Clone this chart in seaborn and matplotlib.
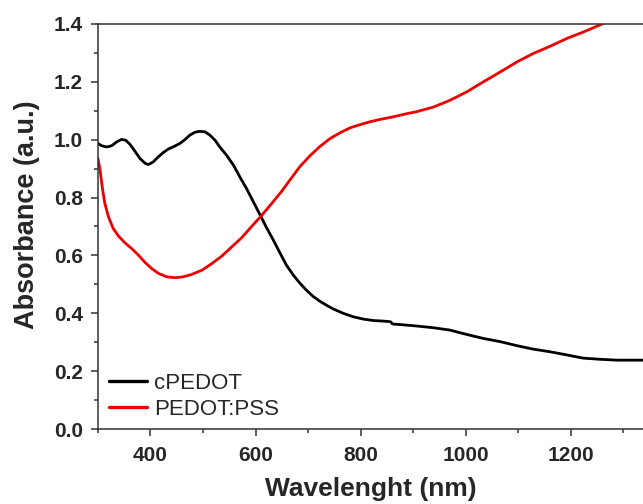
import pandas as pd
import matplotlib
matplotlib.use("Agg")
import matplotlib.pyplot as plt
import seaborn as sns
from matplotlib.ticker import MultipleLocator, FormatStrFormatter

# cPEDOT spectrum (wavelength nm, absorbance)
cpedot_nm = [300, 307, 317, 326, 336, 345, 353, 361, 370, 380, 390, 396, 405, 415,
             424, 434, 443, 456, 466, 475, 485, 494, 504, 513, 523, 532, 545, 558,
             570, 583, 596, 609, 621, 634, 647, 659, 672, 685, 698, 710, 723, 736,
             748, 767, 786, 805, 824, 843, 857, 861, 882, 907, 939, 970, 1002, 1034,
             1066, 1098, 1129, 1161, 1193, 1224, 1256, 1288, 1338]
cpedot_abs = [0.987, 0.979, 0.975, 0.979, 0.993, 1.001, 0.998, 0.984, 0.961, 0.935,
              0.918, 0.914, 0.923, 0.941, 0.955, 0.968, 0.975, 0.987, 1.001, 1.016,
              1.026, 1.029, 1.027, 1.016, 0.998, 0.975, 0.946, 0.912, 0.872, 0.831,
              0.785, 0.739, 0.696, 0.653, 0.607, 0.566, 0.532, 0.503, 0.478, 0.458,
              0.441, 0.427, 0.415, 0.400, 0.388, 0.380, 0.375, 0.373, 0.371, 0.363,
              0.360, 0.356, 0.350, 0.342, 0.327, 0.313, 0.302, 0.288, 0.276, 0.267,
              0.256, 0.245, 0.241, 0.238, 0.238]

# PEDOT:PSS spectrum
pss_nm = [300, 304, 308, 313, 320, 329, 339, 351, 364, 377, 390, 402, 415, 431, 447,
          462, 478, 498, 517, 536, 555, 574, 593, 612, 631, 650, 666, 685, 704, 723,
          742, 761, 780, 799, 818, 837, 862, 888, 907, 939, 970, 1002, 1034, 1066,
          1098, 1129, 1161, 1193, 1224, 1259, 1300, 1338]
pss_abs = [0.935, 0.895, 0.837, 0.780, 0.733, 0.693, 0.667, 0.644, 0.624, 0.601, 0.575,
           0.555, 0.538, 0.526, 0.523, 0.526, 0.534, 0.549, 0.572, 0.598, 0.630, 0.662,
           0.701, 0.739, 0.780, 0.822, 0.862, 0.908, 0.945, 0.977, 1.004, 1.024, 1.041,
           1.052, 1.062, 1.070, 1.079, 1.090, 1.097, 1.113, 1.136, 1.165, 1.200, 1.234,
           1.269, 1.298, 1.323, 1.350, 1.372, 1.399, 1.43, 1.46]

df = pd.concat([
    pd.DataFrame({"nm": cpedot_nm, "abs": cpedot_abs, "sample": "cPEDOT"}),
    pd.DataFrame({"nm": pss_nm, "abs": pss_abs, "sample": "PEDOT:PSS"}),
])

sns.set_style("ticks")
plt.rcParams["font.family"] = ["Liberation Sans", "DejaVu Sans"]

fig = plt.figure(figsize=(6.43, 5.04), dpi=100)
ax = fig.add_axes([0.1524, 0.1488, 0.8476, 0.8036])

sns.lineplot(data=df, x="nm", y="abs", hue="sample", sort=False,
             palette={"cPEDOT": "black", "PEDOT:PSS": "#ee0000"},
             linewidth=2.0, ax=ax)

ax.set_xlim(300, 1338)
ax.set_ylim(0, 1.4)
ax.xaxis.set_major_locator(MultipleLocator(200))
ax.xaxis.set_minor_locator(MultipleLocator(100))
ax.yaxis.set_major_locator(MultipleLocator(0.2))
ax.yaxis.set_minor_locator(MultipleLocator(0.1))
ax.yaxis.set_major_formatter(FormatStrFormatter("%.1f"))

ax.tick_params(which="major", direction="out", length=5, width=1.1, color="#333333",
               labelsize=15, top=False, right=False)
ax.tick_params(which="minor", direction="out", length=3, width=1.1, color="#333333",
               top=False, right=False)
ax.tick_params(axis="x", which="major", pad=7)
ax.tick_params(axis="y", which="major", pad=6)
for lab in ax.get_xticklabels() + ax.get_yticklabels():
    lab.set_fontweight("bold")

for side in ["left", "bottom", "top"]:
    ax.spines[side].set_color("#333333")
    ax.spines[side].set_linewidth(1.1)
ax.spines["right"].set_visible(False)

ax.set_xlabel("Wavelenght (nm)", fontsize=19, fontweight="bold", labelpad=9)
ax.set_ylabel("Absorbance (a.u.)", fontsize=19.5, fontweight="bold")
ax.yaxis.set_label_coords(-0.107, 0.53)

leg = ax.legend(loc="lower left", frameon=False, fontsize=16, handlelength=1.75,
                handletextpad=0.3, borderaxespad=0.0, labelspacing=0.25,
                bbox_to_anchor=(0.003, 0.0))
for line in leg.get_lines():
    line.set_linewidth(2.4)

fig.savefig("out.png", dpi=100)
